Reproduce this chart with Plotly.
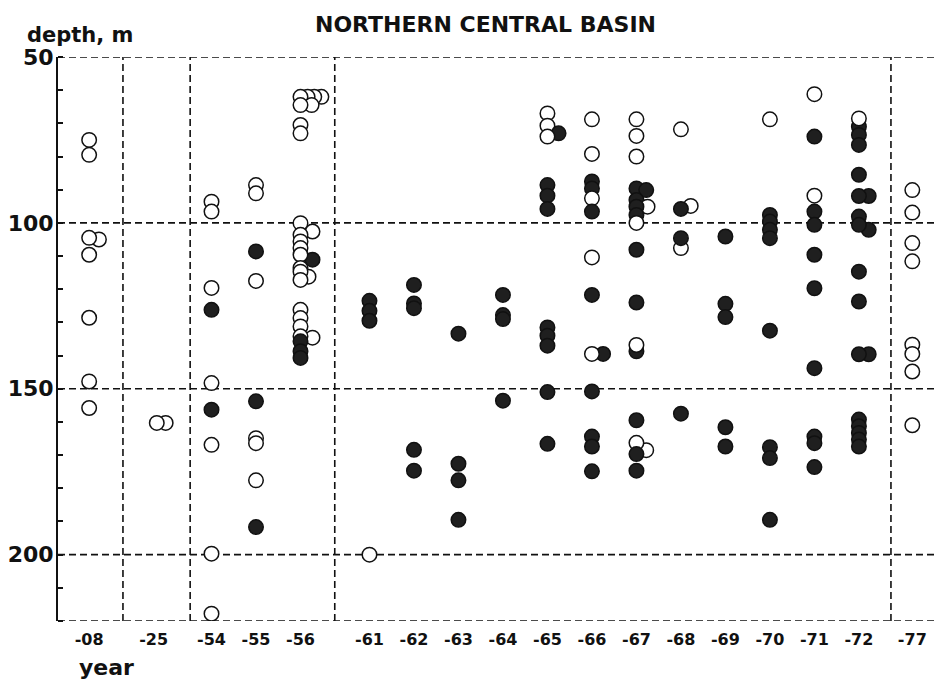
import plotly.graph_objects as go

# Sampling years (tick labels) and where each year sits along the x axis
YEAR_LABELS = ["-08", "-25", "-54", "-55", "-56", "-61", "-62", "-63", "-64",
               "-65", "-66", "-67", "-68", "-69", "-70", "-71", "-72", "-77"]
YEAR_POS = [0.7, 2.15, 3.45, 4.45, 5.45, 7, 8, 9, 10,
            11, 12, 13, 14, 15, 16, 17, 18, 19.2]
# Breaks between survey periods
PERIOD_BREAKS = [1.46, 2.97, 6.22, 18.72]
DEPTH_GRID = [50, 100, 150, 200, 220]

# Observations per year: (depth m, filled 1 / open 0, optional sideways dodge)
d08 = [(75, 0), (79.5, 0), (105, 0, 0.22), (104.5, 0), (109.6, 0), (128.6, 0),
       (147.8, 0), (155.8, 0)]
d25 = [(160.3, 0, 0.27), (160.3, 0, 0.07)]
d54 = [(93.6, 0), (96.6, 0), (119.6, 0), (126.2, 1), (148.3, 0), (156.3, 1),
       (166.9, 0), (199.7, 0), (217.8, 0)]
d55 = [(88.6, 0), (91.1, 0), (108.6, 1), (117.5, 0), (153.8, 1), (164.9, 0),
       (166.4, 0), (177.6, 0), (191.7, 1)]
d56 = [(62, 0, 0.47), (62, 0, 0.31), (62, 0, 0.16), (62, 0), (64.5, 0, 0.25),
       (64.5, 0), (70.5, 0), (73, 0),
       (102.6, 0, 0.27), (100.1, 0), (103.6, 0), (105.6, 0), (107.6, 0),
       (111.1, 1, 0.27), (109.6, 0), (116.2, 0, 0.18), (113.6, 0), (114.7, 0),
       (117.2, 0), (126.2, 0), (128.7, 0), (131.2, 0), (134.6, 0, 0.27),
       (134.2, 0), (135.7, 1), (138.7, 1), (140.7, 1)]
d61 = [(123.5, 1), (126.5, 1), (129.5, 1), (200, 0)]
d62 = [(118.7, 1), (124.3, 1), (125.7, 1), (168.4, 1), (174.7, 1)]
d63 = [(133.4, 1), (172.6, 1), (177.6, 1), (189.5, 1)]
d64 = [(121.7, 1), (127.8, 1), (129, 1), (153.6, 1)]
d65 = [(67, 0), (70.7, 0), (73, 1, 0.25), (74, 0), (88.6, 1), (91.8, 1),
       (95.8, 1), (131.5, 1), (134, 1), (137, 1), (151, 1), (166.6, 1)]
d66 = [(68.8, 0), (79.2, 0), (87.5, 1), (89.6, 1), (92.6, 0), (96.6, 1),
       (110.4, 0), (121.7, 1), (139.5, 1, 0.25), (139.5, 0), (150.8, 1),
       (164.4, 1), (167.4, 1), (174.9, 1)]
d67 = [(68.8, 0), (73.8, 0), (80, 0), (89.6, 1), (90.1, 1, 0.22), (93.1, 1),
       (95.1, 0, 0.25), (95.1, 1), (97.6, 1), (100, 0), (108.1, 1), (124, 1),
       (138.7, 1), (136.8, 0), (159.5, 1), (168.5, 0, 0.22), (166.3, 0),
       (169.7, 1), (174.7, 1)]
d68 = [(71.8, 0), (94.9, 0, 0.22), (95.8, 1), (107.6, 0), (104.6, 1), (157.5, 1)]
d69 = [(104.1, 1), (124.4, 1), (128.4, 1), (161.6, 1), (167.4, 1)]
d70 = [(68.8, 0), (97.6, 1), (99.6, 1), (102.1, 1), (104.6, 1), (132.5, 1),
       (167.6, 1), (170.9, 1), (189.5, 1)]
d71 = [(61.2, 0), (74, 1), (91.8, 0), (96.6, 1), (100.6, 1), (109.6, 1),
       (119.7, 1), (143.8, 1), (164.4, 1), (166.4, 1), (173.6, 1)]
d72 = [(71, 1), (73.5, 1), (76.5, 1), (68.5, 0), (85.5, 1), (91.9, 1, 0.22),
       (91.9, 1), (102.1, 1, 0.22), (98.1, 1), (100.6, 1), (114.7, 1),
       (123.7, 1), (139.6, 1, 0.22), (139.6, 1), (159.3, 1), (161.3, 1),
       (163.3, 1), (165.3, 1), (167.4, 1)]
d77 = [(90.1, 0), (96.9, 0), (106.1, 0), (111.6, 0), (136.7, 0), (139.5, 0),
       (144.8, 0), (161, 0)]

OBS = [d08, d25, d54, d55, d56, d61, d62, d63, d64, d65, d66, d67,
       d68, d69, d70, d71, d72, d77]

FONT = "DejaVu Sans"
INK = "#111111"
FILL_DARK = "#1f1f1f"

xs, ys, fills = [], [], []
for pos, rows in zip(YEAR_POS, OBS):
    for row in rows:
        dx = row[2] if len(row) > 2 else 0.0
        xs.append(pos + dx)
        ys.append(row[0])
        fills.append(FILL_DARK if row[1] else "white")

fig = go.Figure()
fig.add_trace(go.Scatter(
    x=xs, y=ys, mode="markers",
    marker=dict(size=14.5, color=fills, line=dict(color=INK, width=1.5)),
    hoverinfo="x+y", showlegend=False,
))

dash = "7px,4px"
shapes = []
for d in DEPTH_GRID:
    shapes.append(dict(type="line", xref="paper", x0=0, x1=1, yref="y", y0=d, y1=d,
                       line=dict(color=INK, width=1.6, dash=dash), layer="below"))
for b in PERIOD_BREAKS:
    shapes.append(dict(type="line", xref="x", x0=b, x1=b, yref="paper", y0=0, y1=1,
                       line=dict(color=INK, width=1.6, dash=dash), layer="below"))

fig.update_layout(
    width=935, height=680,
    margin=dict(l=58, r=0, t=57, b=59),
    paper_bgcolor="white", plot_bgcolor="white",
    shapes=shapes,
    xaxis=dict(
        range=[0, 19.71], tickvals=YEAR_POS, ticktext=YEAR_LABELS,
        showgrid=False, zeroline=False, showline=False, ticks="",
        ticklabelstandoff=7,
        tickfont=dict(family=FONT, size=16, color=INK, weight="bold"),
    ),
    yaxis=dict(
        range=[220, 50], tickvals=[50, 100, 150, 200],
        showgrid=False, zeroline=False,
        showline=True, linecolor=INK, linewidth=2,
        ticks="", ticklabelstandoff=-2,
        tickfont=dict(family=FONT, size=22, color=INK, weight="bold"),
        minor=dict(dtick=10, tick0=50, ticks="inside", ticklen=5,
                   tickwidth=1.5, tickcolor=INK, showgrid=False),
    ),
    annotations=[
        dict(text="NORTHERN CENTRAL BASIN", xref="paper", yref="paper",
             x=0.487, y=1.058, xanchor="center", yanchor="middle", showarrow=False,
             font=dict(family=FONT, size=22, color=INK, weight="bold")),
        dict(text="depth, m", xref="paper", yref="paper",
             x=-0.0376, y=1.039, xanchor="left", yanchor="middle", showarrow=False,
             font=dict(family=FONT, size=21, color=INK, weight="bold")),
        dict(text="year", xref="paper", yref="paper",
             x=0.0217, y=-0.083, xanchor="left", yanchor="middle", showarrow=False,
             font=dict(family=FONT, size=22, color=INK, weight="bold")),
    ],
)

fig.write_html("out.html")
